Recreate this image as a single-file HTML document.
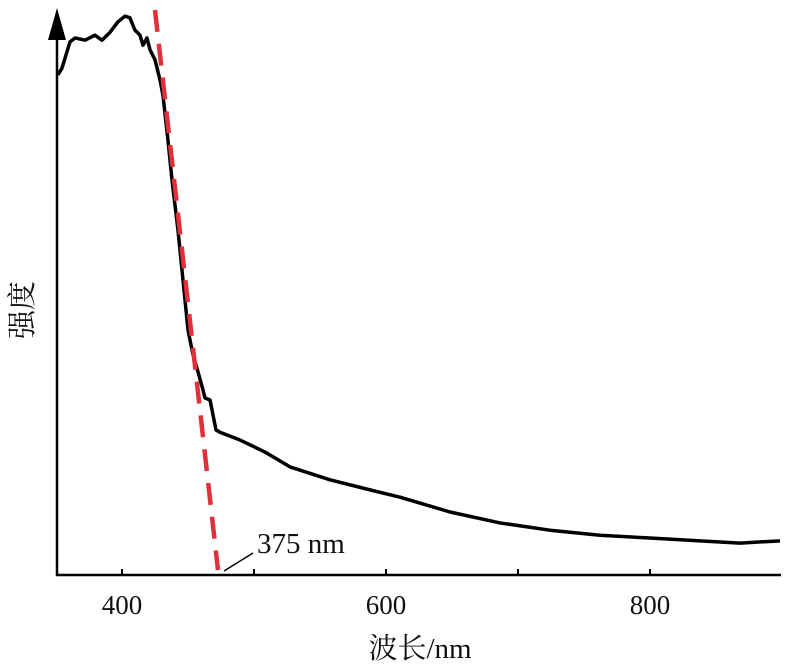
<!DOCTYPE html>
<html><head><meta charset="utf-8"><style>
body{margin:0;background:#fff;}
svg text{font-family:"Liberation Serif","Noto Serif CJK SC",serif;}
</style></head><body>
<svg width="800" height="666" viewBox="0 0 800 666">
<g id="root"></g>
</svg>
<script>
const wavelengths=[351.5,354.5,360.6,364.4,372,379.5,384.8,390.9,397,402.3,406,409.8,413.6,415.9,418.9,421.2,425,428.8,431,434.8,437.9,442.4,446.2,450,453.8,457.6,461.4,462.9,466.7,471.2,474.2,489.4,508.3,527.3,557.6,587.9,610.6,648.5,686.4,724.2,762.1,800,837.9,868.2,898.5];
const intensity=[89.3,90.5,95.2,95.9,95.5,96.4,95.5,96.9,98.8,99.8,99.5,97.3,96.4,94.6,95.9,93.8,92,88.4,85.7,77.7,70.5,61.6,52.7,43.75,39.3,36.25,33,31.6,31.25,25.9,25.5,24.1,21.96,19.3,17,15.2,13.9,11.25,9.3,8.0,7.1,6.6,6.1,5.7,6.1];
const tangentX=[425,472.7];
const tangentY=[100.9,0.9];
const xTicks=[400,500,600,700,800];
const xTickLabels=["400","","600","","800"];
const annotation="375 nm";
const NS="http://www.w3.org/2000/svg";
const root=document.getElementById('root');
const X=w=>56+(w-350)*1.32;
const Y=v=>575-v*5.6;
function mk(t,a){const e=document.createElementNS(NS,t);for(const k in a)e.setAttribute(k,a[k]);root.appendChild(e);return e;}
let e;
e=mk('line',{x1:56,y1:575,x2:781,y2:575,stroke:'#000','stroke-width':2.5});


e=mk('line',{x1:57,y1:576,x2:57,y2:30,stroke:'#000','stroke-width':2.5});


e=mk('polygon',{points:'57,8 48,40 66,40',fill:'#000'});


xTicks.forEach((t,i)=>{
 e=mk('line',{x1:X(t),y1:575,x2:X(t),y2:569,stroke:'#000','stroke-width':2});
 
 
 if(xTickLabels[i]){
  e=mk('text',{x:X(t),y:614,'text-anchor':'middle','font-size':27,fill:'#111'});
  e.textContent=xTickLabels[i];
  
  
 }
});
e=mk('polyline',{points:wavelengths.map((w,i)=>X(w)+','+Y(intensity[i])).join(' '),fill:'none',stroke:'#000','stroke-width':3.5,'stroke-linejoin':'round'});


e=mk('line',{x1:X(tangentX[0]),y1:Y(tangentY[0]),x2:X(tangentX[1]),y2:Y(tangentY[1]),stroke:'#e0303a','stroke-width':4.5,'stroke-dasharray':'22,12'});


e=mk('line',{x1:224,y1:571,x2:253,y2:553,stroke:'#000','stroke-width':1.5});


e=mk('text',{x:257,y:553,'font-size':29,fill:'#111'});
e.textContent=annotation;


e=mk('text',{x:420,y:658,'text-anchor':'middle','font-size':29,fill:'#111'});
e.textContent='波长/nm';


e=mk('text',{x:0,y:0,'text-anchor':'middle','font-size':29,fill:'#111',transform:'translate(32,310) rotate(-90)'});
e.textContent='强度';


</script>
</body></html>
